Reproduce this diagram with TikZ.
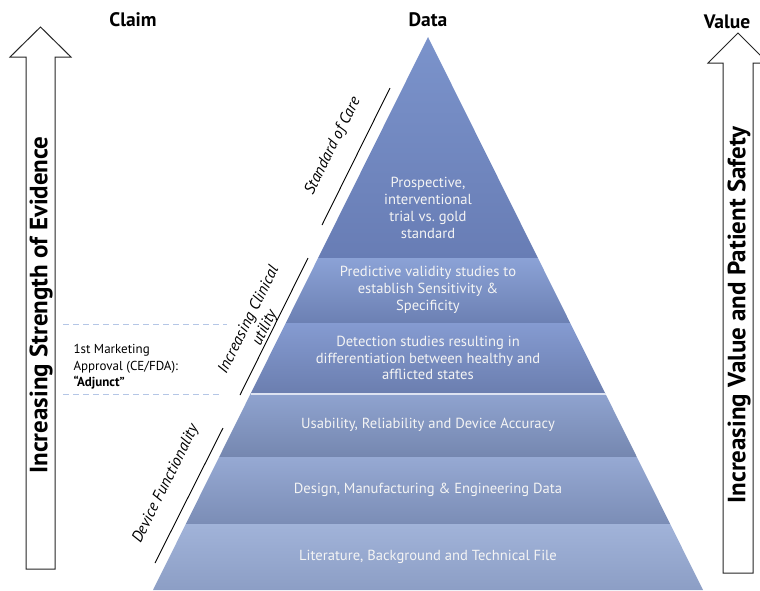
\documentclass[tikz,border=0pt]{standalone}
\usepackage{fontspec}
\setmainfont{PT Sans}
\usepackage{tikz}
\usepackage{xcolor}

% cores das camadas (topo / base de cada faixa)
\definecolor{cam1t}{HTML}{7B93CB}
\definecolor{cam1b}{HTML}{687DB5}
\definecolor{cam2t}{HTML}{8BA2D6}
\definecolor{cam2b}{HTML}{6C80B3}
\definecolor{cam3t}{HTML}{859BD1}
\definecolor{cam3b}{HTML}{6B7EAF}
\definecolor{cam4t}{HTML}{8FA3CF}
\definecolor{cam4b}{HTML}{7587B0}
\definecolor{cam5t}{HTML}{96A9D3}
\definecolor{cam5b}{HTML}{7B8DB6}
\definecolor{cam6t}{HTML}{A1B3D9}
\definecolor{cam6b}{HTML}{8C9EC5}
\definecolor{txtclaro}{HTML}{F4F4F4}
\definecolor{tracejado}{HTML}{B4C6E6}

\begin{document}
\begin{tikzpicture}[x=1pt,y=-1pt,
  camada/.style={text=txtclaro, font=\fontsize{14.6}{16.8}\selectfont, align=center},
  titulo/.style={font=\bfseries\fontsize{19.5}{22}\selectfont},
  seta/.style={draw=black!85, line width=1pt, fill=white},
  textoseta/.style={font=\bfseries\fontsize{25}{28}\selectfont, rotate=90},
  inclinado/.style={font=\itshape\fontsize{15.8}{18}\selectfont, rotate=63.5, align=center}]
\useasboundingbox (0,0) rectangle (760,590);
\clip (0,0) rectangle (760,590);

% Pirâmide em faixas
\foreach \i/\ya/\yb in {1/37/258, 2/258/323, 3/323/394, 4/394/457, 5/457/524, 6/524/590} {
    \shade[top color=cam\i t, bottom color=cam\i b]
      ({428-0.4973*(\ya-37)},\ya) -- ({428+0.4973*(\ya-37)},\ya)
      -- ({428+0.4973*(\yb-37)},\yb) -- ({428-0.4973*(\yb-37)},\yb) -- cycle;
}
\draw[white!70!cam4t, line width=1.2pt] (250.5,394) -- (605.5,394);

% Textos das camadas
\node[camada] (t1) at (428,208) {Prospective,\\ interventional\\ trial vs.\ gold\\ standard};
\node[camada] (t2) at (428,290) {Predictive validity studies to\\ establish Sensitivity \&\\ Specificity};
\node[camada] (t3) at (428,358) {Detection studies resulting in\\ differentiation between healthy and\\ afflicted states};
\node[camada] (t4) at (428,425) {Usability, Reliability and Device Accuracy};
\node[camada] (t5) at (428,490) {Design, Manufacturing \& Engineering Data};
\node[camada] (t6) at (428,557) {Literature, Background and Technical File};

% Títulos
\node[titulo] (claim) at (133,20) {Claim};
\node[titulo] (data) at (428,20) {Data};
\node[titulo] (value) at (727,22) {Value};

% Setas laterais
\draw[seta] (26,569) -- (26,57) -- (10,57) -- (40.5,27) -- (71,57) -- (55,57) -- (55,569) -- cycle;
\node[textoseta] (evid) at (41,305) {Increasing Strength of Evidence};
\draw[seta] (723,573) -- (723,63) -- (708,63) -- (738,33) -- (768,63) -- (753,63) -- (753,573) -- cycle;
\node[textoseta] (segur) at (739,315) {Increasing Value and Patient Safety};

% Marcas inclinadas ao lado da pirâmide
\draw[black, line width=0.9pt] (322,225) -- (390,88);
\node[inclinado] (cuidado) at (333,146) {Standard of Care};
\draw[black, line width=0.9pt] (240,395) -- (308,258);
\node[inclinado] (clinica) at (257,324) {Increasing Clinical\\ utility};
\draw[black, line width=0.9pt] (155,563) -- (223,428);
\node[inclinado] (funcao) at (166,484) {Device Functionality};

% Aprovação
\draw[tracejado, line width=1pt, dash pattern=on 6pt off 4pt] (63,324) -- (227,324);
\draw[tracejado, line width=1pt, dash pattern=on 6pt off 4pt] (63,394) -- (220,394);
\node[anchor=west, align=left, font=\fontsize{13}{16.5}\selectfont] (aprov) at (70,367)
  {1st Marketing\\ Approval (CE/FDA):\\ \textbf{“Adjunct”}};
\end{tikzpicture}
\end{document}
